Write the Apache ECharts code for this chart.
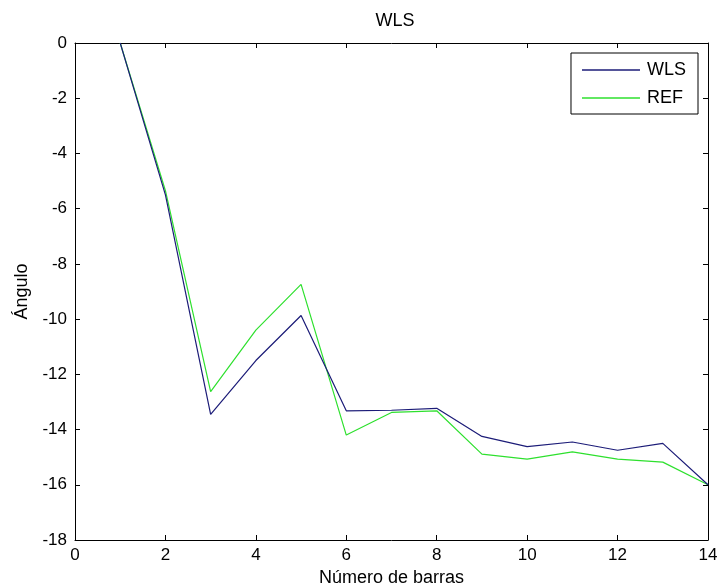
<!DOCTYPE html>
<html><head><meta charset="utf-8">
<script src="https://cdn.jsdelivr.net/npm/echarts@6/dist/echarts.min.js"></script>
<style>html,body{margin:0;padding:0;background:#fff}#c{width:717px;height:588px}</style>
</head><body><div id="c"></div>
<script>
const xValues = [1,2,3,4,5,6,7,8,9,10,11,12,13,14];
const wlsValues = [0,-5.5,-13.45,-11.5,-9.87,-13.32,-13.3,-13.23,-14.25,-14.62,-14.45,-14.75,-14.5,-16.0];
const refValues = [0,-5.35,-12.63,-10.4,-8.74,-14.2,-13.38,-13.32,-14.89,-15.07,-14.81,-15.07,-15.18,-16.0];
const seriesNames = ['WLS','REF'];
const titleText = 'WLS';
const xName = 'Número de barras';
const yName = 'Ángulo';

const font = 'Liberation Sans, Arial, sans-serif';
const chart = echarts.init(document.getElementById('c'));
const axisCommon = {
  axisLine:{show:true,onZero:false,lineStyle:{color:'#000',width:1}},
  axisTick:{show:true,inside:true,length:5,lineStyle:{color:'#000'}},
  splitLine:{show:false}
};
chart.setOption({
  animation:false,
  backgroundColor:'#fff',
  title:{text:titleText,left:390,textAlign:'center',top:7,textStyle:{fontFamily:font,fontSize:18,fontWeight:'normal',color:'#000'}},
  legend:{
    orient:'vertical',right:19,top:53,
    data:seriesNames,
    icon:'rect',itemWidth:58,itemHeight:1.5,itemGap:10,
    borderColor:'#000',borderWidth:1,padding:[8,12,7,11],
    backgroundColor:'#fff',
    textStyle:{fontFamily:font,fontSize:18,color:'#000',padding:[0,0,0,2]}
  },
  grid:{left:75,top:43,right:9,bottom:48,outerBoundsMode:'none',containLabel:false},
  xAxis:[
    Object.assign({type:'value',min:0,max:14,interval:2,position:'bottom',
      name:xName,nameLocation:'middle',nameGap:27,
      nameTextStyle:{fontFamily:font,fontSize:18,color:'#000'},
      axisLabel:{fontFamily:font,fontSize:17,color:'#000',margin:7}},axisCommon),
    Object.assign({type:'value',min:0,max:14,interval:2,position:'top',axisLabel:{show:false}},axisCommon)
  ],
  yAxis:[
    Object.assign({type:'value',min:-18,max:0,interval:2,position:'left',
      name:yName,nameLocation:'middle',nameGap:44,nameRotate:90,
      nameTextStyle:{fontFamily:font,fontSize:18,color:'#000'},
      axisLabel:{fontFamily:font,fontSize:17,color:'#000',margin:8}},axisCommon),
    Object.assign({type:'value',min:-18,max:0,interval:2,position:'right',axisLabel:{show:false}},axisCommon)
  ],
  series:[
    {name:seriesNames[0],type:'line',data:xValues.map((x,i)=>[x,wlsValues[i]]),showSymbol:false,
      lineStyle:{color:'#1c1c78',width:1.2},itemStyle:{color:'#1c1c78'},z:3},
    {name:seriesNames[1],type:'line',data:xValues.map((x,i)=>[x,refValues[i]]),showSymbol:false,
      lineStyle:{color:'#2ee02e',width:1.2},itemStyle:{color:'#2ee02e'},z:2}
  ]
});
</script></body></html>
